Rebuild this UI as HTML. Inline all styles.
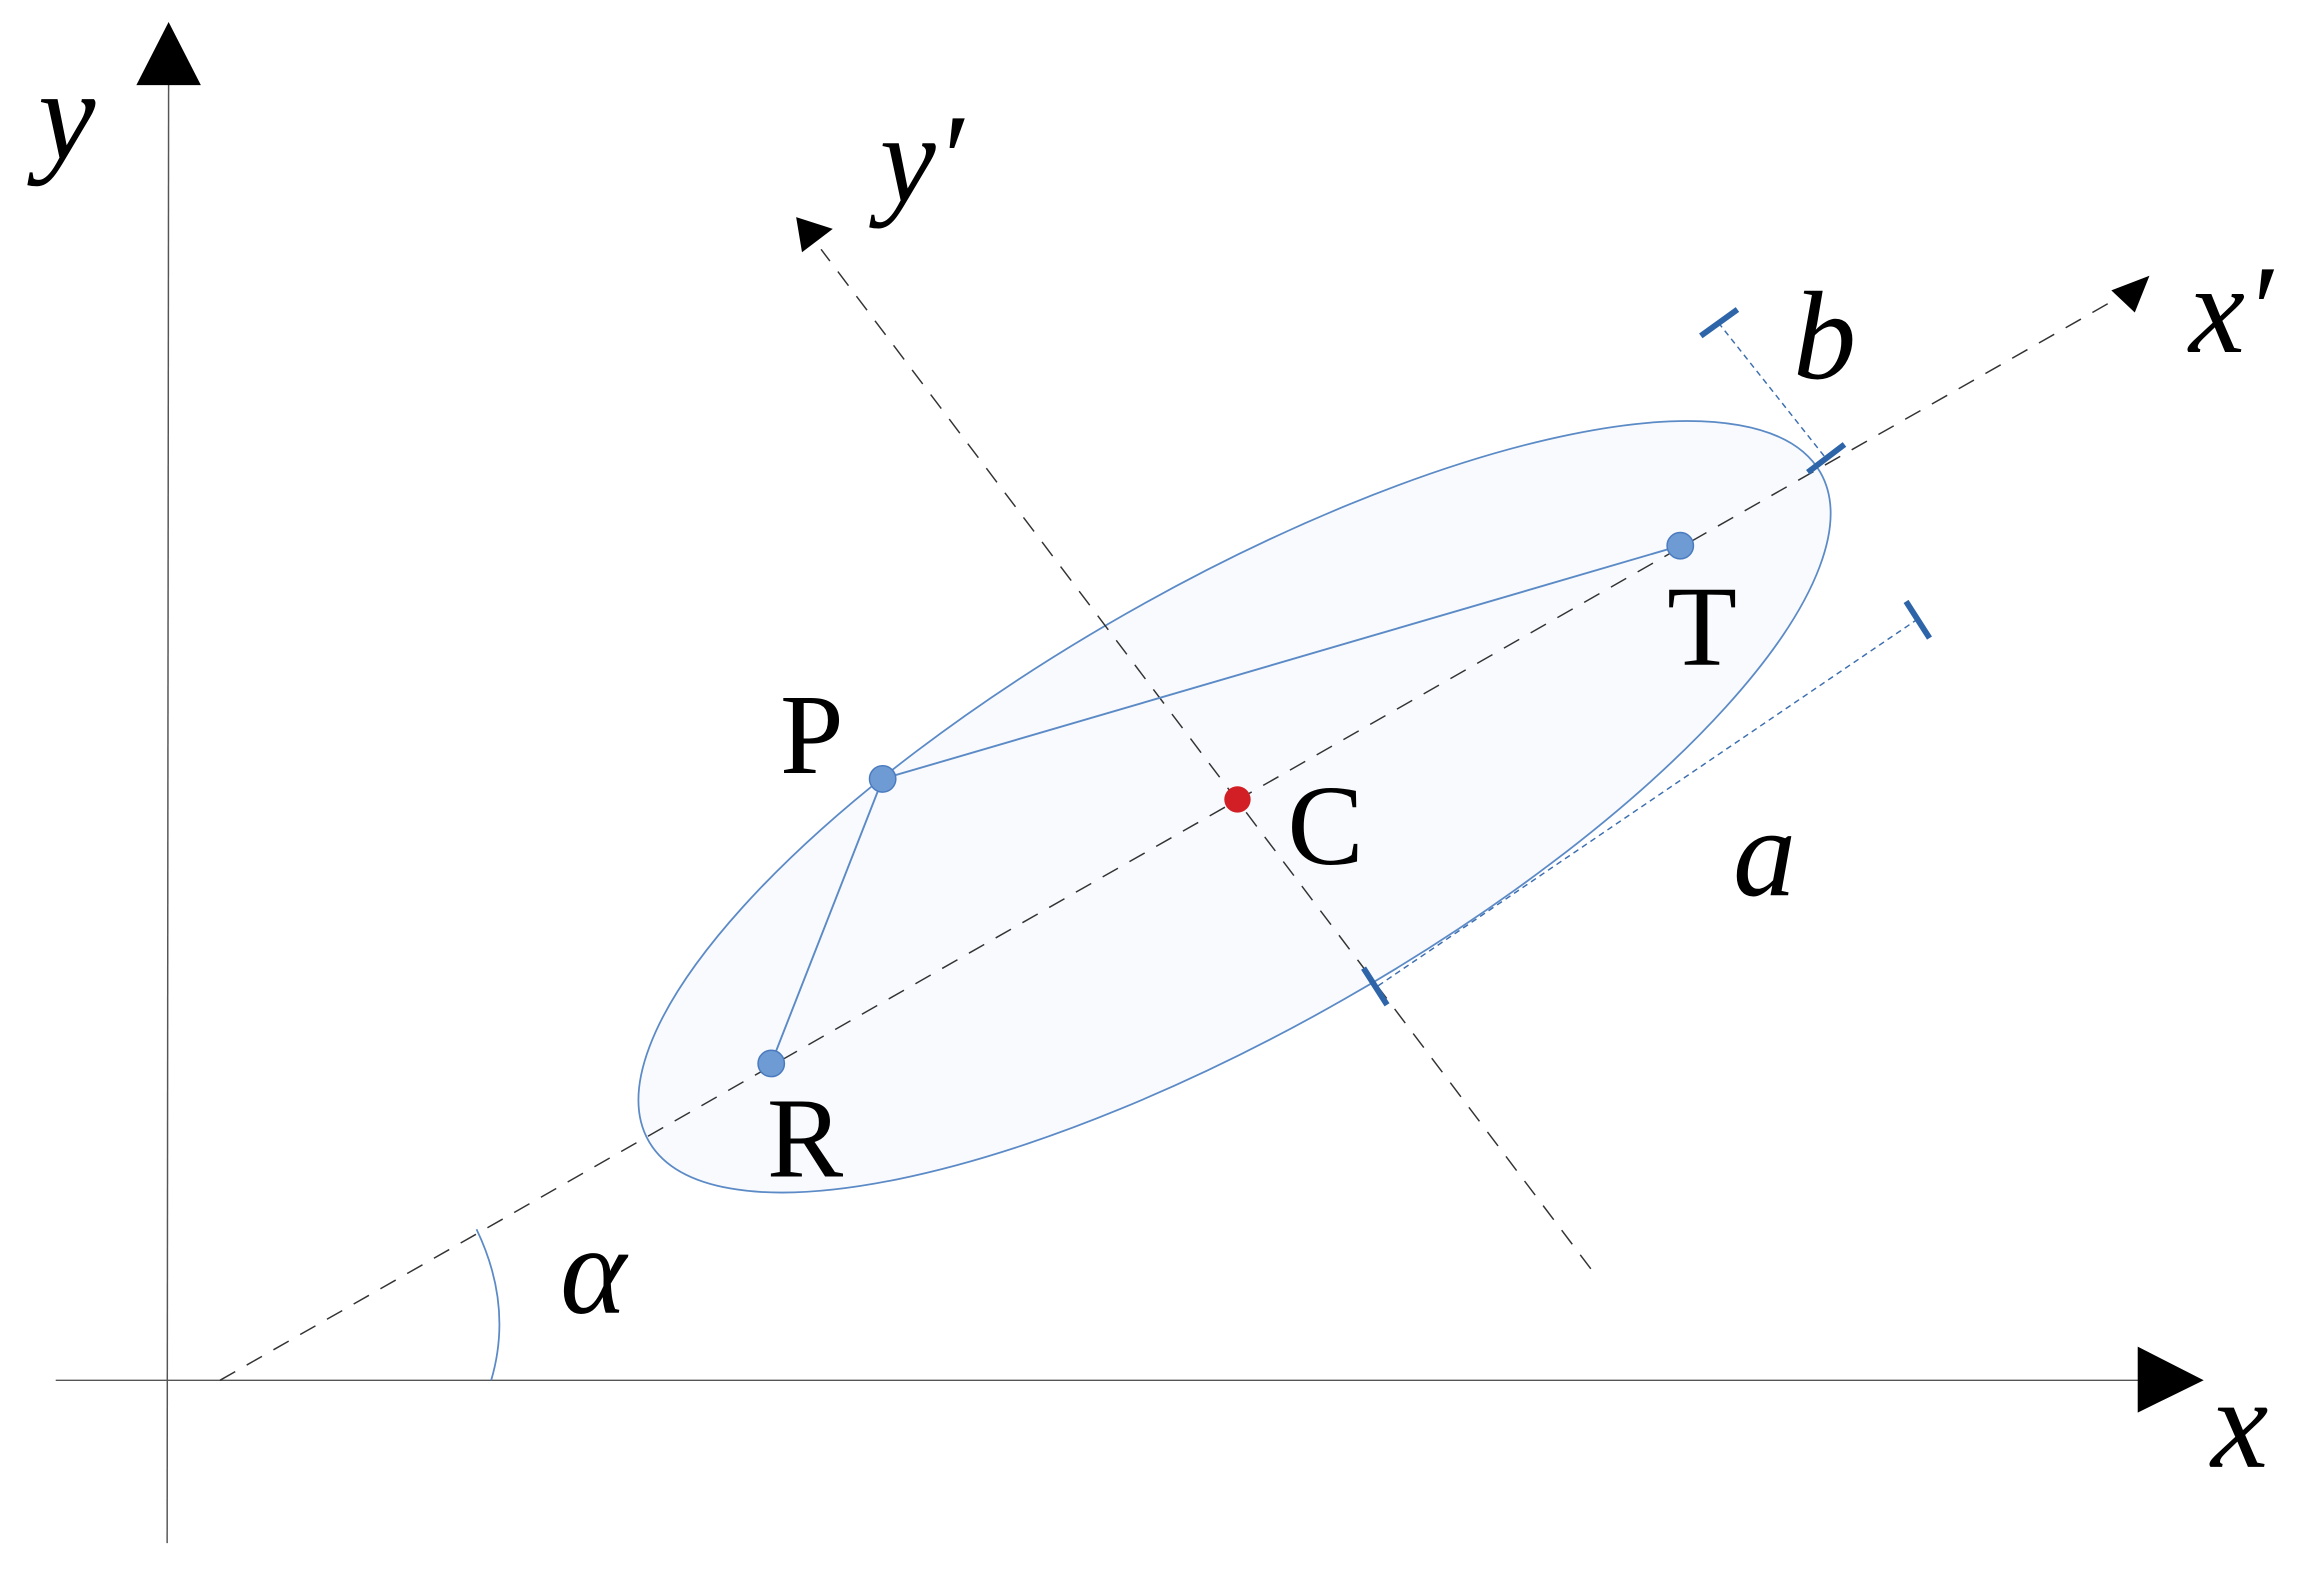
<!DOCTYPE html>
<html><head><style>html,body{margin:0;padding:0;background:#fff}svg{display:block}</style></head>
<body>
<svg width="2299" height="1571" viewBox="0 0 1568 1071" preserveAspectRatio="none" xmlns="http://www.w3.org/2000/svg">
<g font-family="Liberation Serif, serif" fill="#000">
<ellipse cx="842" cy="550" rx="460" ry="151" transform="rotate(-29.7 842 550)" fill="#f8fafd" stroke="#5b8ac6" stroke-width="1.2"/>
<line x1="115" y1="50" x2="114" y2="1052" stroke="#555" stroke-width="1"/>
<polygon points="115,15 93,58 137,58"/>
<line x1="38" y1="941" x2="1465" y2="941" stroke="#555" stroke-width="1"/>
<polygon points="1503,941 1458,918 1458,963"/>
<line x1="150" y1="941" x2="1450" y2="200" stroke="#333" stroke-width="1" stroke-dasharray="12,9"/>
<polygon points="1466,188 1440,198 1456,213"/>
<line x1="1085" y1="865" x2="560" y2="170" stroke="#333" stroke-width="1" stroke-dasharray="12,9"/>
<polygon points="543,148 568,156 547,172"/>
<path d="M335,941 Q350,890 325,838" fill="none" stroke="#5b8ac6" stroke-width="1.2"/>
<line x1="1172" y1="220" x2="1245" y2="312" stroke="#3d6fb0" stroke-width="1" stroke-dasharray="4,3"/>
<line x1="940" y1="672" x2="1308" y2="422" stroke="#3d6fb0" stroke-width="1" stroke-dasharray="4,3"/>
<g stroke="#2e65a8" stroke-width="4">
<line x1="1160" y1="229" x2="1185" y2="211"/>
<line x1="1233" y1="322" x2="1258" y2="303"/>
<line x1="930" y1="660" x2="946" y2="685"/>
<line x1="1300" y1="410" x2="1316" y2="435"/>
</g>
<g stroke="#5b8ac6" stroke-width="1.3">
<line x1="602" y1="531" x2="1146" y2="372"/>
<line x1="602" y1="531" x2="526" y2="725"/>
</g>
<circle cx="602" cy="531" r="9" fill="#6e9bd3" stroke="#4a7bbf"/>
<circle cx="526" cy="725" r="9" fill="#6e9bd3" stroke="#4a7bbf"/>
<circle cx="1146" cy="372" r="9" fill="#6e9bd3" stroke="#4a7bbf"/>
<circle cx="844" cy="545" r="9" fill="#d21f26"/>
<text x="532" y="527" font-size="78">P</text>
<text x="1137" y="453" font-size="78">T</text>
<text x="523" y="802" font-size="78">R</text>
<text x="878" y="589" font-size="78">C</text>
<g font-style="italic">
<text x="26" y="108" font-size="88">y</text>
<text x="1508" y="1000" font-size="88">x</text>
<text x="600" y="137" font-size="86">y′</text>
<text x="1493" y="240" font-size="86">x′</text>
<text x="1182" y="610" font-size="86">a</text>
<text x="1223" y="258" font-size="86">b</text>
<text x="382" y="895" font-size="86">α</text>
</g>
</g>
</svg>
</body></html>
